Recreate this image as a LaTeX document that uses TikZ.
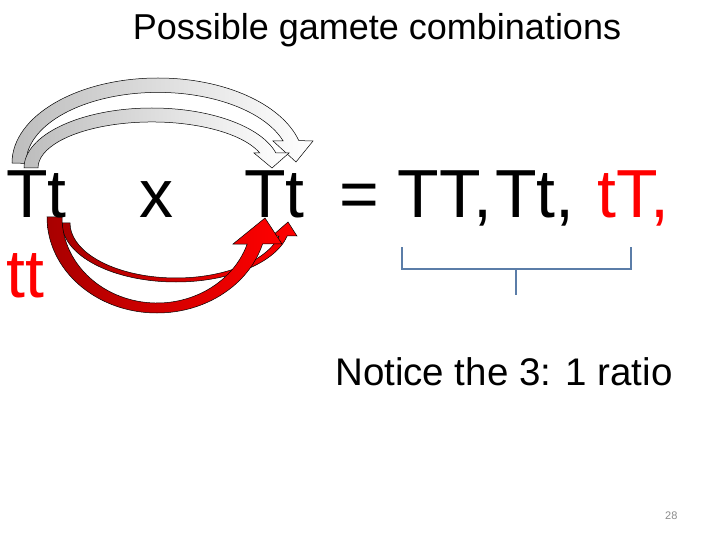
\documentclass[tikz,border=0pt]{standalone}
\usepackage{fontspec}
\setmainfont{Liberation Sans}
\usepackage{tikz}
\usetikzlibrary{positioning,calc}
\definecolor{brkblue}{HTML}{5B7DA8}
\definecolor{arrgray}{HTML}{BDBDBD}
\definecolor{arrdark}{HTML}{A80000}
\definecolor{pagegray}{HTML}{8C8C8C}
\tikzset{
 bigtxt/.style={font=\fontsize{68}{80}\selectfont, inner sep=0pt, anchor=base west},
 graybow/.style={left color=arrgray, right color=white, draw=black, line width=0.5pt},
 redbow/.style={left color=arrdark, right color=red, draw=black, line width=0.5pt},
 bracket/.style={draw=brkblue, line width=2.5pt},
}

\begin{document}
\begin{tikzpicture}[x=1pt, y=1pt, yscale=-1]
\useasboundingbox[fill=white] (0,0) rectangle (720,540);

% Title
\node[font=\fontsize{36}{43}\selectfont, inner sep=0pt, anchor=base] (title)
      at (377,40) {Possible gamete combinations};

% Grey bows over the top (parent to parent)
\shade[graybow] (12,163)
  arc[start angle=180, end angle=344.7, x radius=146, y radius=85]
  -- (313,141) -- (296,162) -- (273,141) -- (283.2,141)
  arc[start angle=341.6, end angle=180, x radius=132, y radius=71] -- cycle;
\shade[graybow] (24,168)
  arc[start angle=180, end angle=345.5, x radius=128, y radius=60]
  -- (289,153) -- (272,168) -- (254,153) -- (259.8,153)
  arc[start angle=341, end angle=180, x radius=114, y radius=46] -- cycle;

% Red bows underneath
\shade[redbow] (62,223)
  arc[start angle=180, end angle=12.7, x radius=114, y radius=59]
  -- (297,236) -- (288,222) -- (272,236) -- (279,236)
  arc[start angle=13.7, end angle=180, x radius=106, y radius=55] -- cycle;
\shade[redbow] (47,217)
  arc[start angle=180, end angle=16.3, x radius=110, y radius=96]
  -- (282,244) -- (265,218) -- (233,244) -- (247.2,244)
  arc[start angle=18.3, end angle=180, x radius=95, y radius=86] -- cycle;

% Cross
\node[bigtxt] (left)  at (6,218) {Tt};
\node[bigtxt] (cross) at (139,218) {x};
\node[bigtxt] (right) at (244,218) {Tt};
\node[bigtxt] (result) at (339,218)
      {= TT,\hspace{3pt}Tt,\hspace{4pt} \textcolor{red}{tT,}};
\node[bigtxt, text=red] (recess) at (6,297) {tt};

% Bracket under the first three
\coordinate (bl) at (402,247);
\coordinate (br) at (631,247);
\coordinate (bm) at (516,269);
\coordinate (bs) at (516,295);
\draw[bracket] (bl) |- (bm) -| (br);
\draw[bracket] (bm) -- (bs);

\node[font=\fontsize{38.5}{46}\selectfont, inner sep=0pt, anchor=base west] (note)
      at (335,385) {Notice the 3: 1 ratio};

\node[font=\fontsize{11}{13}\selectfont, text=pagegray, inner sep=0pt,
      anchor=base west] (page) at (665,519) {28};
\end{tikzpicture}
\end{document}
